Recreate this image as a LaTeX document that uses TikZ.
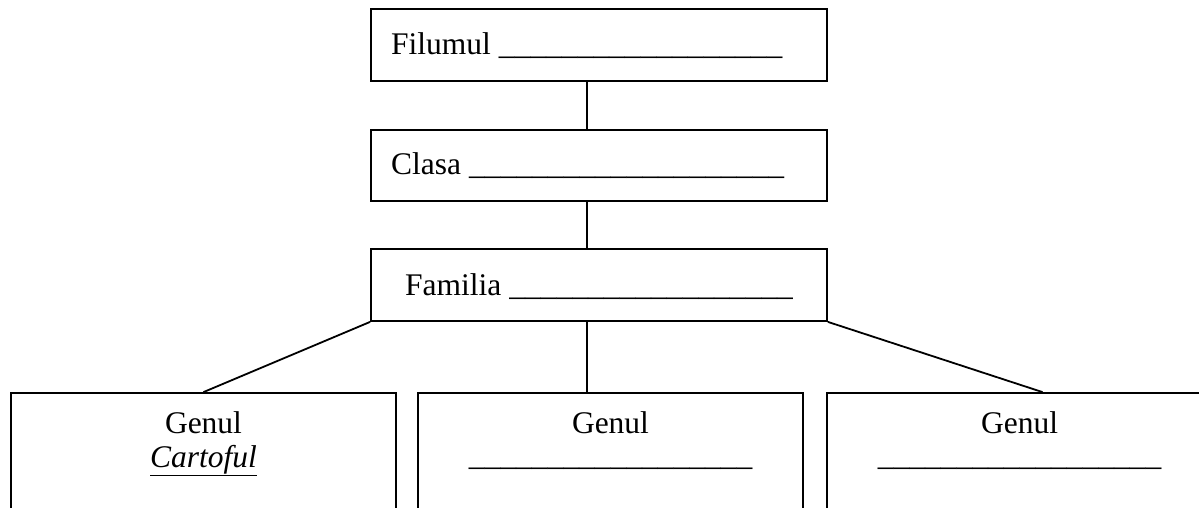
\documentclass[tikz,border=0pt]{standalone}
\usepackage{fontspec}
\setmainfont{Liberation Serif}

\newcommand{\linie}[1]{\foreach \k in {1,...,#1}{\_}}

\tikzset{
	caseta/.style={draw, line width=1.8pt, minimum height=72pt, inner sep=0pt},
	eticheta/.style={inner sep=0pt, font=\fontsize{31.5}{38}\selectfont},
	leg/.style={line width=1.8pt}
}

\begin{document}
\begin{tikzpicture}[x=1pt,y=-1pt]
	\useasboundingbox (0,0) rectangle (1199,508);
	\clip (0,0) rectangle (1199,508);
	% casete de sus
	\node[caseta, minimum width=456pt] (filum) at (599,45) {};
	\node[caseta, minimum width=456pt, minimum height=71pt] (clasa) at (599,165.5) {};
	\node[caseta, minimum width=456pt] (familia) at (599,285) {};
	% genuri
	\node[caseta, minimum width=385pt, minimum height=160pt] (genA) at (203.5,473) {};
	\node[caseta, minimum width=385pt, minimum height=160pt] (genB) at (610.5,473) {};
	\node[caseta, minimum width=385pt, minimum height=160pt] (genC) at (1019.5,473) {};
	\node[eticheta, anchor=base west] (tFilum) at (391,55) {Filumul \linie{18}};
	\node[eticheta, anchor=base west] (tClasa) at (391,175) {Clasa \linie{20}};
	\node[eticheta, anchor=base west] (tFamilia) at (405,295) {Familia \linie{18}};
	\node[eticheta, anchor=base] (tGenA) at (203.5,433) {Genul};
	\node[eticheta, anchor=base] (tGenB) at (610.5,433) {Genul};
	\node[eticheta, anchor=base] (tGenC) at (1019.5,433) {Genul};
	\node[eticheta, anchor=base] (tCartof) at (203.5,467) {\underline{\textit{Cartoful}}};
	\node[eticheta, anchor=base] (tLinieB) at (610.5,465) {\linie{18}};
	\node[eticheta, anchor=base] (tLinieC) at (1019.5,465) {\linie{18}};
	% legaturi
	\draw[leg] ([xshift=-12pt]filum.south) -- ([xshift=-12pt]clasa.north);
	\draw[leg] ([xshift=-12pt]clasa.south) -- ([xshift=-12pt]familia.north);
	\draw[leg] (familia.south west) -- (genA.north);
	\draw[leg] ([xshift=-12pt]familia.south) -- ([xshift=-12pt]familia.south |- genB.north);
	\draw[leg] (familia.south east) -- ([xshift=23pt]genC.north);
\end{tikzpicture}
\end{document}
